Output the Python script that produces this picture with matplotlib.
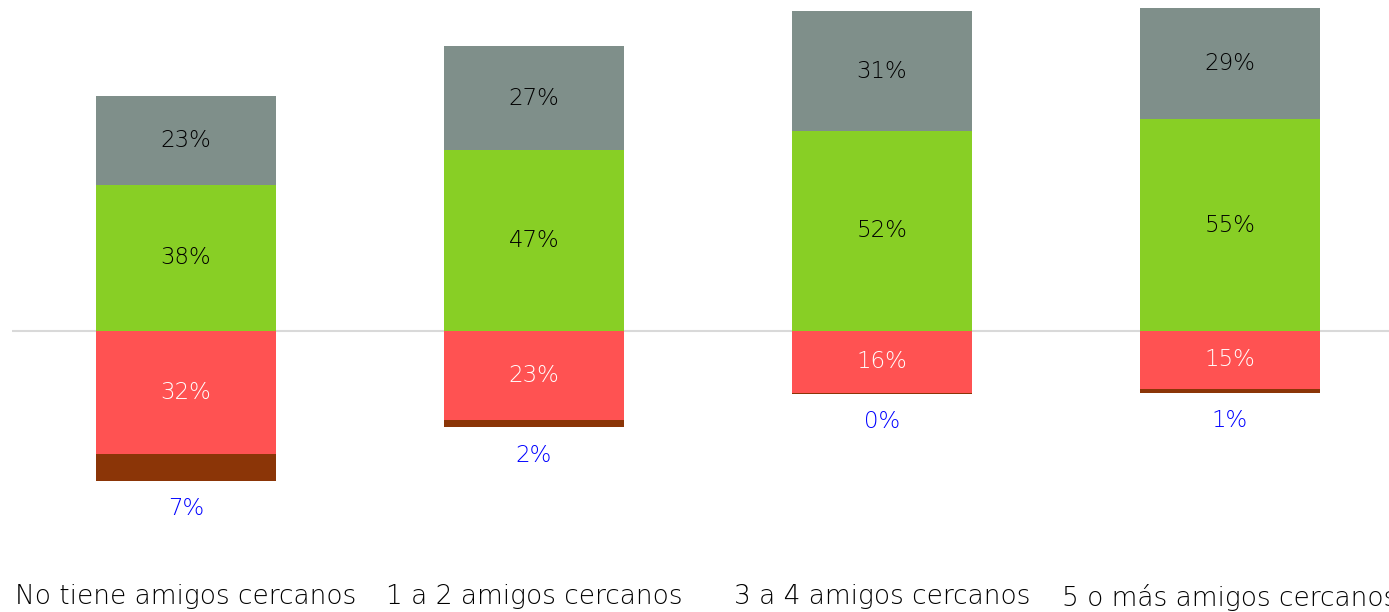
import matplotlib.pyplot as plt

plt.rcParams['font.family'] = ['DejaVu Sans']

categorias = ['No tiene amigos cercanos', '1 a 2 amigos cercanos',
              '3 a 4 amigos cercanos', '5 o más amigos cercanos']
verde = [38, 47, 52, 55]
gris = [23, 27, 31, 29]
rojo = [32, 23, 16, 15]
marron = [7, 2, 0.4, 1]

fig = plt.figure(figsize=(13.89, 6.12), dpi=100)
# el eje se sale por la derecha, como en el original
ax = fig.add_axes([12 / 1389, 32 / 612, 1392 / 1389, 580 / 612])

x = range(len(categorias))
ancho = 0.515

b_verde = ax.bar(x, verde, ancho, color='#88CF25')
b_gris = ax.bar(x, gris, ancho, bottom=verde, color='#7F8F8A')
b_rojo = ax.bar(x, [-v for v in rojo], ancho, color='#FF5252')
b_marron = ax.bar(x, [-v for v in marron], ancho, bottom=[-v for v in rojo], color='#8B3507')

ax.axhline(0, color='#D9D9D9', linewidth=1.5, zorder=0.5)

for barras, valores, col in [(b_verde, verde, 'black'), (b_gris, gris, 'black'),
                             (b_rojo, rojo, 'white')]:
    for b, v in zip(barras, valores):
        ax.text(b.get_x() + b.get_width() / 2, b.get_y() + b.get_height() / 2,
                f'{v:.0f}%', ha='center', va='center', color=col, fontsize=16.5,
                fontweight='light')

for b, v in zip(b_marron, marron):
    ax.annotate(f'{v:.0f}%', (b.get_x() + b.get_width() / 2, b.get_y() + b.get_height()),
                xytext=(0, -20), textcoords='offset points', ha='center', va='center',
                color='#0000FF', fontsize=16.5, fontweight='light')

ax.set_xlim(-0.5, 3.5)
ax.set_ylim(-(580 - 331) / 3.85, 331 / 3.85)
ax.set_xticks(list(x))
ax.set_xticklabels(categorias, fontsize=19, fontweight='light', color='black')
ax.tick_params(axis='x', length=0, pad=3)
ax.set_yticks([])
for s in ax.spines.values():
    s.set_visible(False)

fig.savefig('out.png', dpi=100)
